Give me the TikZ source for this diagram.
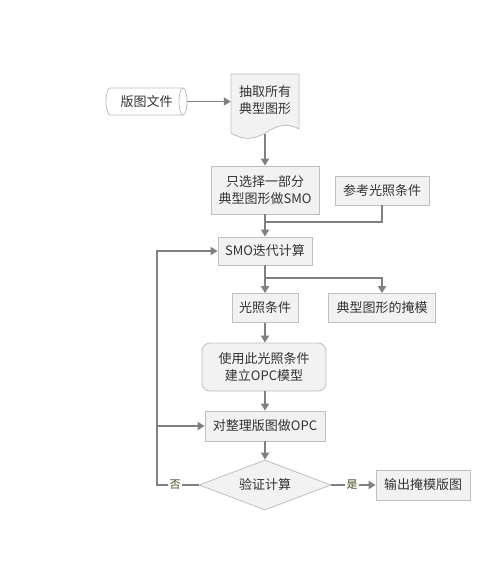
\documentclass[tikz,border=0pt]{standalone}
\usepackage{fontspec}
\setmainfont{Noto Sans CJK SC}
\usetikzlibrary{shapes.geometric,arrows.meta,calc}
\definecolor{boxfill}{HTML}{F2F2F2}
\definecolor{boxline}{HTML}{BFBFBF}
\definecolor{conn}{HTML}{808080}
\definecolor{txt}{HTML}{333333}
\definecolor{lab}{HTML}{46461E}
\tikzset{
  base/.style={fill=boxfill,draw=boxline,line width=0.8pt,text=txt,font=\fontsize{13}{17}\selectfont,align=center,inner sep=0pt},
  boxr/.style={base,rectangle,minimum width=#1},
  rbox/.style={base,rectangle,rounded corners=8pt},
  dia/.style={base,diamond,aspect=2.64},
  plaintext/.style={text=txt,font=\fontsize{13}{17}\selectfont,align=center,inner sep=0pt},
  conline/.style={draw=conn,line width=1.8pt},
  arr/.style={conline,-{Triangle[width=8pt,length=7pt]}},
  lbl/.style={text=lab,font=\fontsize{11}{13}\selectfont,inner sep=1pt,fill=white}
}
\begin{document}
\begin{tikzpicture}[x=1pt,y=-1pt]
\useasboundingbox (0,0) rectangle (500,584);
\fill[white] (0,0) rectangle (500,584);
% cylinder (horizontal)
\filldraw[fill=white,draw=boxline,line width=0.8pt] (110,88) -- (183,88) arc[start angle=-90,end angle=90,x radius=4,y radius=13.5] -- (110,115) arc[start angle=90,end angle=270,x radius=4,y radius=13.5] -- cycle;
\draw[boxline,line width=0.8pt] (183,115) arc[start angle=90,end angle=270,x radius=4,y radius=13.5];
\node[plaintext,minimum width=81,minimum height=27] (file) at (146.5,101.5) {版图文件};
% document shape
\filldraw[fill=boxfill,draw=boxline,line width=0.8pt] (231,74) -- (299,74) -- (299,129) .. controls (287,122) and (276,126) .. (265,133) .. controls (252,141) and (241,139) .. (231,133) -- cycle;
\node[plaintext,minimum width=68,minimum height=52] (doc) at (265,100) {抽取所有\\典型图形};
\coordinate (docb) at (265,134);
\node[boxr=108,minimum height=48] (box1) at (265,190) {只选择一部分\\典型图形做SMO};
\node[boxr=94,minimum height=29] (ref) at (382,190.5) {参考光照条件};
\node[boxr=94,minimum height=28] (smo) at (265,251) {SMO迭代计算};
\node[boxr=66,minimum height=29] (light) at (265,308) {光照条件};
\node[boxr=107,minimum height=29] (mask) at (382,308) {典型图形的掩模};
\node[rbox,minimum width=124,minimum height=48] (model) at (264,367) {使用此光照条件\\建立OPC模型};
\node[boxr=120,minimum height=30] (opc) at (265,426) {对整理版图做OPC};
\node[dia,minimum width=132,minimum height=50] (check) at (265,485) {验证计算};
\node[boxr=94,minimum height=30] (out) at (423,485) {输出掩模版图};
\node[lbl] (no) at (175,485) {否};
\node[lbl] (yes) at (352,485) {是};
\coordinate (j1) at (265,222);
\coordinate (j2) at (265,278);
\coordinate (c1) at (157,485);
\coordinate (c2) at (157,426);
% connectors
\draw[arr] (file.east) -- (file.east -| doc.west);
\draw[arr] (docb) -- (box1.north);
\draw[conline] (ref.south) |- (j1);
\draw[arr] (box1.south) -- (smo.north);
\draw[arr] (smo.south) -- (light.north);
\draw[arr] (j2) -| (mask.north);
\draw[arr] (light.south) -- (model.north -| light.south);
\draw[arr] (model.south -| opc.north) -- (opc.north);
\draw[arr] (opc.south) -- (check.north);
\draw[conline] (check.west) -- (no.east);
\draw[arr] (no.west) -- (c1) |- (smo.west);
\draw[arr] (c2) -- (opc.west);
\draw[conline] (check.east) -- (yes.west);
\draw[arr] (yes.east) -- (out.west);
\end{tikzpicture}
\end{document}
